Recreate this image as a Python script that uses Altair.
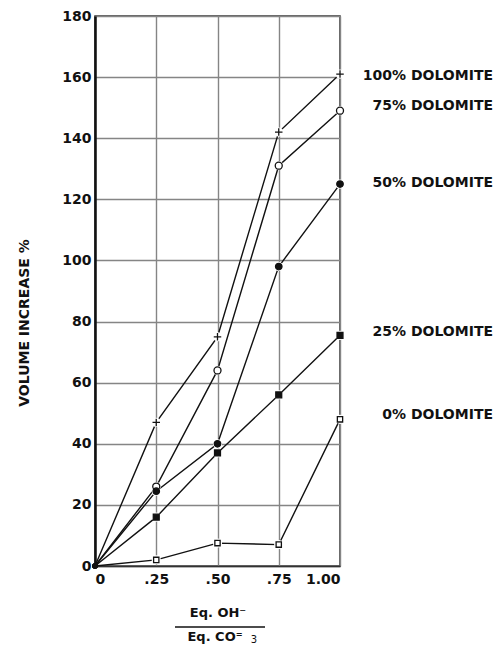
import altair as alt
import pandas as pd

# ---------------- data ----------------
x_vals = [0.0, 0.25, 0.50, 0.75, 1.00]
x_tick_labels = ["0", ".25", ".50", ".75", "1.00"]
y_ticks = [0, 20, 40, 60, 80, 100, 120, 140, 160, 180]

series_names = ["100%", "75%", "50%", "25%", "0%"]
vol_100 = [0, 47, 75, 142, 161]
vol_75 = [0, 26, 64, 131, 149]
vol_50 = [0, 24.5, 40, 98, 125]
vol_25 = [0, 16, 37, 56, 75.5]
vol_0 = [0, 2, 7.5, 7, 48]

label_texts = ["100% DOLOMITE", "75% DOLOMITE", "50% DOLOMITE", "25% DOLOMITE", "0% DOLOMITE"]
label_y = [160.5, 150.5, 125.5, 76.5, 49.5]

marker_shapes = ["M-1,0L1,0M0,-1L0,1", "circle", "circle", "square", "square"]
marker_fills = ["white", "white", "#111111", "#111111", "white"]
marker_sizes = [56, 28, 28, 28, 34]

FONT = "DejaVu Sans"
INK = "#111111"

rows = []
for name, vals in zip(series_names, [vol_100, vol_75, vol_50, vol_25, vol_0]):
    for xv, v in zip(x_vals, vals):
        rows.append({"series": name, "x": xv, "v": v})
df = pd.DataFrame(rows)

labels_df = pd.DataFrame({"series": series_names, "label": label_texts, "v": label_y})

label_expr = "".join(
    f"abs(datum.value - {xv}) < 1e-6 ? '{lab}' : " for xv, lab in zip(x_vals, x_tick_labels)
) + "''"

x_enc = alt.X(
    "x:Q",
    scale=alt.Scale(domain=[0, 1], nice=False, zero=False),
    axis=alt.Axis(
        values=x_vals, labelExpr=label_expr, title=None, grid=True, ticks=False,
        labelFontSize=14, labelFontWeight="bold", labelFont=FONT, labelColor=INK,
        labelPadding=6, domainColor="#333333", domainWidth=1.5,
        gridColor="#858585", gridWidth=1.4,
    ),
)
y_enc = alt.Y(
    "v:Q",
    scale=alt.Scale(domain=[0, 180], nice=False),
    axis=alt.Axis(
        values=y_ticks, title=None, grid=True, ticks=False,
        labelFontSize=14, labelFontWeight="bold", labelFont=FONT, labelColor=INK,
        labelPadding=4, domainColor=INK, domainWidth=2.5,
        gridColor="#858585", gridWidth=1.4,
    ),
)

base = alt.Chart(df)

lines = base.mark_line(color=INK, strokeWidth=1.4).encode(
    x=x_enc, y=y_enc, detail="series:N", order="x:Q"
)

halo = base.transform_filter("datum.x > 0").mark_circle(
    size=85, color="white", opacity=1
).encode(x=x_enc, y=y_enc)

markers = base.transform_filter("datum.x > 0").mark_point(
    opacity=1, strokeWidth=1.3
).encode(
    x=x_enc,
    y=y_enc,
    shape=alt.Shape("series:N", scale=alt.Scale(domain=series_names, range=marker_shapes), legend=None),
    fill=alt.Fill("series:N", scale=alt.Scale(domain=series_names, range=marker_fills), legend=None),
    size=alt.Size("series:N", scale=alt.Scale(domain=series_names, range=marker_sizes), legend=None),
    stroke=alt.value(INK),
)

origin = base.transform_filter("datum.x == 0").mark_circle(
    size=30, color=INK, opacity=1
).encode(x=x_enc, y=y_enc)

series_labels = alt.Chart(labels_df).mark_text(
    align="right", baseline="middle", font=FONT, fontSize=14, fontWeight="bold", color=INK
).encode(x=alt.value(398), y=y_enc, text="label:N")

y_title = alt.Chart(pd.DataFrame({"t": ["VOLUME INCREASE %"]})).mark_text(
    angle=270, align="center", baseline="middle", font=FONT, fontSize=14,
    fontWeight="bold", color=INK
).encode(x=alt.value(-70), y=alt.value(307), text="t:N")

x_num = alt.Chart(pd.DataFrame({"t": ["Eq. OH\u207b"]})).mark_text(
    align="center", baseline="middle", font=FONT, fontSize=13, fontWeight="bold", color=INK
).encode(x=alt.value(123), y=alt.value(597), text="t:N")

x_bar = alt.Chart(pd.DataFrame({"t": [1]})).mark_rule(color=INK, strokeWidth=1.5).encode(
    x=alt.value(80), x2=alt.value(170), y=alt.value(611)
)

x_den = alt.Chart(pd.DataFrame({"t": ["Eq. CO\u207c"]})).mark_text(
    align="center", baseline="middle", font=FONT, fontSize=13, fontWeight="bold", color=INK
).encode(x=alt.value(120), y=alt.value(621), text="t:N")

x_sub = alt.Chart(pd.DataFrame({"t": ["3"]})).mark_text(
    align="center", baseline="middle", font=FONT, fontSize=10, color=INK
).encode(x=alt.value(159), y=alt.value(624), text="t:N")

chart = alt.layer(
    lines, halo, markers, origin, series_labels, y_title, x_num, x_bar, x_den, x_sub
).properties(
    width=245,
    height=550,
    autosize=alt.AutoSizeParams(type="none"),
    padding={"left": 87, "top": 8, "right": 153, "bottom": 81},
    background="white",
).configure_view(
    stroke="#333333", strokeWidth=1.5
)

chart.save("out.html", embed_options={"renderer": "svg", "actions": False})
